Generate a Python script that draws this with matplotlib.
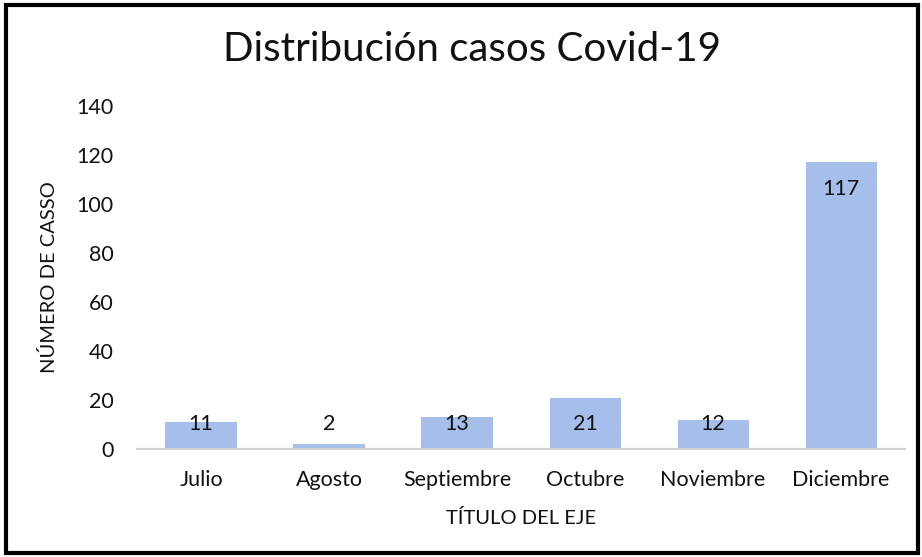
import matplotlib
matplotlib.use("Agg")
import matplotlib.pyplot as plt
from matplotlib.patches import Rectangle

months = ["Julio", "Agosto", "Septiembre", "Octubre", "Noviembre", "Diciembre"]
cases = [11, 2, 13, 21, 12, 117]
yticks = [0, 20, 40, 60, 80, 100, 120, 140]

plt.rcParams['font.family'] = ['Lato', 'DejaVu Sans']

fig = plt.figure(figsize=(9.22, 5.57), dpi=100)
fig.patch.set_facecolor("white")
ax = fig.add_axes([0.1486, 0.194, 0.8330, 0.6157])

x = list(range(len(months)))
ax.bar(x, cases, width=0.555, color="#a6bfea", zorder=2)
ax.set_xlim(-0.5, len(months) - 0.5)
ax.set_ylim(0, 140)
ax.set_yticks(yticks)
ax.set_yticklabels([str(t) for t in yticks], fontsize=15.5, color="#111111")
ax.set_xticks(x)
ax.set_xticklabels(months, fontsize=15.5, color="#111111")
ax.tick_params(length=0, pad=17, axis="y")
ax.tick_params(length=0, pad=15, axis="x")
for s in ["top", "right", "left"]:
    ax.spines[s].set_visible(False)
ax.spines["bottom"].set_color("#d0d0d0")
ax.spines["bottom"].set_linewidth(1.5)

for xi, v in zip(x, cases):
    ax.text(xi, max(v - 10.7, 10.2), str(v), ha="center", va="center",
            fontsize=15.5, color="#111111", zorder=3)

ax.set_ylabel("NÚMERO DE CASSO", fontsize=14.5, labelpad=13, color="#111111")
ax.set_xlabel("TÍTULO DEL EJE", fontsize=14.5, labelpad=14, color="#111111")

fig.text(0.512, 0.912, "Distribución casos Covid-19", ha="center", va="center",
         fontsize=29, color="#111111")

fig.patches.append(Rectangle((0.006, 0.008), 0.99, 0.983, transform=fig.transFigure,
                             fill=False, edgecolor="black", linewidth=3))

fig.savefig("out.png", dpi=100)
